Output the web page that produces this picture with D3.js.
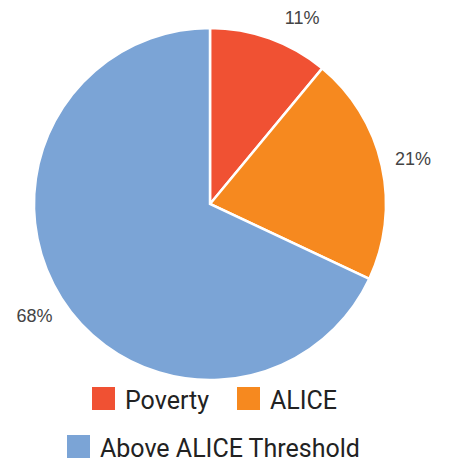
<!DOCTYPE html>
<html>
<head>
<meta charset="utf-8">
<script src="https://cdn.jsdelivr.net/npm/d3@7.9.0/dist/d3.min.js"></script>
<style>
  html, body { margin: 0; padding: 0; background: #fff; }
  svg { display: block; font-family: Roboto, sans-serif; }
</style>
</head>
<body>
<div id="chart"></div>
<script>
const categories = ['Poverty', 'ALICE', 'Above ALICE Threshold'];
const values = [11, 21, 68];
const colors = ['#f05133', '#f6891f', '#7ba4d6'];

const width = 451;
const height = 461;
const cx = 210;
const cy = 204;
const radius = 176;

const svg = d3.select('#chart')
  .append('svg')
  .attr('width', width)
  .attr('height', height);

const rows = categories.map((c, i) => ({ name: c, value: values[i], color: colors[i] }));

const pie = d3.pie().sort(null).value((d) => d.value);
const arcs = pie(rows);
const arc = d3.arc().innerRadius(0).outerRadius(radius);

const g = svg.append('g').attr('transform', `translate(${cx},${cy})`);

g.selectAll('path.slice')
  .data(arcs)
  .enter()
  .append('path')
  .attr('class', 'slice')
  .attr('d', arc)
  .attr('fill', (d) => d.data.color)
  .attr('stroke', '#fff')
  .attr('stroke-width', 2.5);

// percent labels centred on a ring outside the pie, slid along it if too near the top
const labelR = 208;
const minCenterY = 17.5;
const total = d3.sum(values);
g.selectAll('text.pct')
  .data(arcs)
  .enter()
  .append('text')
  .attr('class', 'pct')
  .each(function (d) {
    const a = (d.startAngle + d.endAngle) / 2;
    let x = Math.sin(a) * labelR;
    let y = -Math.cos(a) * labelR;
    if (cy + y < minCenterY) {
      y = minCenterY - cy;
      x = Math.sign(Math.sin(a)) * Math.sqrt(labelR * labelR - y * y);
    }
    d3.select(this)
      .attr('x', x)
      .attr('y', y)
      .attr('dy', '0.36em')
      .attr('text-anchor', 'middle');
  })
  .attr('font-family', '"Liberation Sans", Arial, sans-serif')
  .attr('font-size', 18)
  .attr('fill', '#444')
  .text((d) => Math.round((d.data.value / total) * 100) + '%');

// legend
const legendRows = [
  { items: [0, 1], y: 387, x: [92, 237] },
  { items: [2], y: 435, x: [67] },
];
const legend = svg.append('g');
legendRows.forEach((r) => {
  r.items.forEach((idx, j) => {
    const item = legend.append('g').attr('transform', `translate(${r.x[j]},${r.y})`);
    item.append('rect')
      .attr('width', 23)
      .attr('height', 23)
      .attr('fill', colors[idx]);
    item.append('text')
      .attr('x', 33)
      .attr('y', 22)
      .attr('font-size', 25)
      .attr('fill', '#222')
      .text(categories[idx]);
  });
});
</script>
</body>
</html>
